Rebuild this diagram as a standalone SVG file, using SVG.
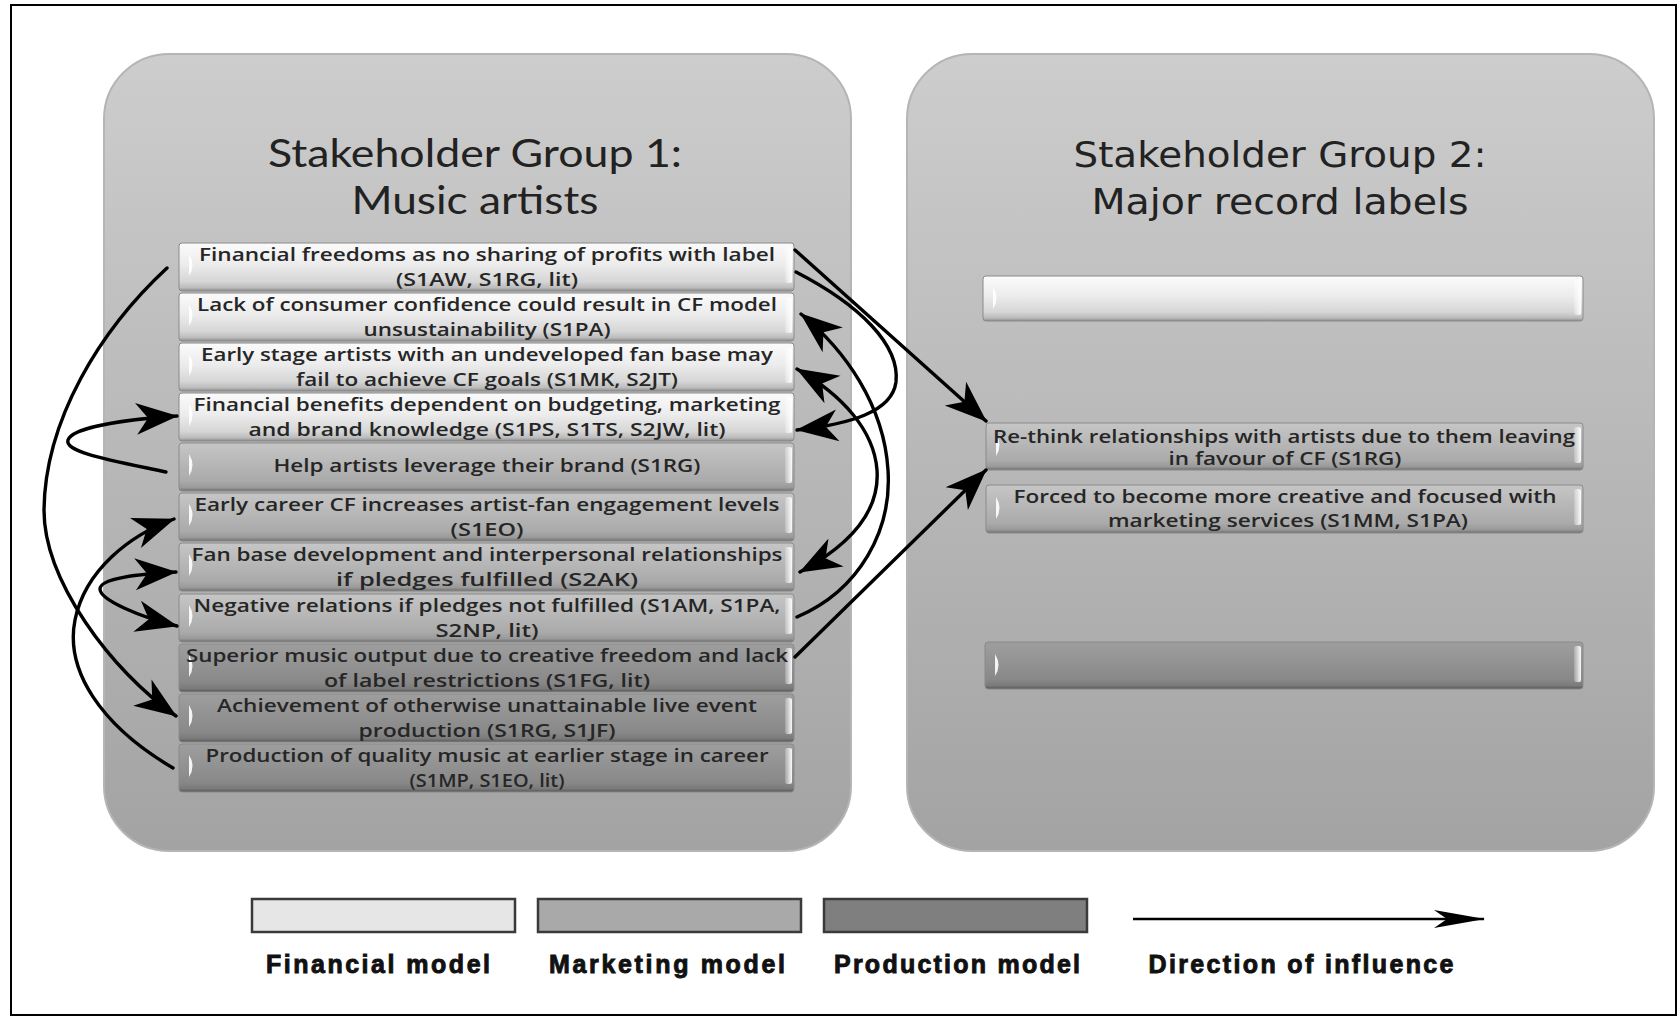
<svg xmlns="http://www.w3.org/2000/svg" xmlns:xlink="http://www.w3.org/1999/xlink" width="1679" height="1018" viewBox="0 0 1679 1018">
<style>
.panel{stroke:#b5b5b5;stroke-width:2}
.box{stroke:#8a8a8a;stroke-width:1}
.fin{fill:url(#gFin)}
.mkt{fill:url(#gMkt)}
.prod{fill:url(#gProd)}
.t{font-family:"Open Sans","Liberation Sans",sans-serif;font-size:18.5px;font-weight:600;fill:#262626;text-anchor:middle}
.title{font-family:Lato,"Liberation Sans",sans-serif;font-size:38px;fill:#222;text-anchor:middle}
.title2{font-family:"DejaVu Sans","Liberation Sans",sans-serif;font-size:36px;fill:#222;text-anchor:middle}
.leg{font-family:"Liberation Sans","Arial",sans-serif;font-size:25px;font-weight:bold;fill:#111;stroke:#111;stroke-width:0.9;text-anchor:middle}
.legbox{stroke:#3a3a3a;stroke-width:2.5}
.conn path{fill:none;stroke:#000;stroke-width:3.4;stroke-linecap:round}
</style>
<defs>
<linearGradient id="gPanel" x1="0" y1="0" x2="0" y2="1">
<stop offset="0" stop-color="#cdcdcd"/><stop offset="1" stop-color="#a3a3a3"/>
</linearGradient>
<linearGradient id="gFin" x1="0" y1="0" x2="0" y2="1">
<stop offset="0" stop-color="#fbfbfb"/><stop offset="0.45" stop-color="#ececec"/><stop offset="0.8" stop-color="#d6d6d6"/><stop offset="0.93" stop-color="#bcbcbc"/><stop offset="1" stop-color="#8c8c8c"/>
</linearGradient>
<linearGradient id="gMkt" x1="0" y1="0" x2="0" y2="1">
<stop offset="0" stop-color="#c6c6c6"/><stop offset="0.45" stop-color="#b6b6b6"/><stop offset="0.8" stop-color="#aaaaaa"/><stop offset="0.93" stop-color="#999"/><stop offset="1" stop-color="#6e6e6e"/>
</linearGradient>
<linearGradient id="gProd" x1="0" y1="0" x2="0" y2="1">
<stop offset="0" stop-color="#9e9e9e"/><stop offset="0.45" stop-color="#929292"/><stop offset="0.8" stop-color="#888"/><stop offset="0.93" stop-color="#7a7a7a"/><stop offset="1" stop-color="#565656"/>
</linearGradient>
<linearGradient id="gHi" x1="0" y1="0" x2="1" y2="0">
<stop offset="0" stop-color="#fff" stop-opacity="0.2"/><stop offset="1" stop-color="#fff" stop-opacity="0.95"/>
</linearGradient>
<path id="lhl" d="M0,0 Q7,11 0,22 Z" fill="#fff" fill-opacity="0.9"/>
<rect id="rhl" width="7" height="36" rx="2" fill="url(#gHi)"/>
<marker id="ah" markerUnits="userSpaceOnUse" markerWidth="44" markerHeight="34" viewBox="0 0 44 34" refX="41" refY="17" orient="auto-start-reverse">
<path d="M0,1 L42,17 L0,33 L12,17 Z" fill="#000"/>
</marker>
<marker id="ahL" markerUnits="userSpaceOnUse" markerWidth="52" markerHeight="22" viewBox="0 0 52 22" refX="50" refY="11" orient="auto">
<path d="M0,2 L51,11 L0,20 L13,11 Z" fill="#000"/>
</marker>
</defs>

<rect x="0" y="0" width="1679" height="1018" fill="#fff"/>
<rect id="frame" x="11" y="5" width="1665" height="1010" fill="none" stroke="#000" stroke-width="2"/>

<g id="group1">
<rect class="panel" x="104" y="54" width="747" height="797" rx="65" fill="url(#gPanel)"/>
<text class="title" x="475" y="167" textLength="414" lengthAdjust="spacingAndGlyphs">Stakeholder Group 1:</text>
<text class="title" x="475" y="214" textLength="247" lengthAdjust="spacingAndGlyphs">Music artists</text>
</g>

<g id="group2">
<rect class="panel" x="907" y="54" width="747" height="797" rx="65" fill="url(#gPanel)"/>
<text class="title2" x="1280" y="167" textLength="413" lengthAdjust="spacingAndGlyphs">Stakeholder Group 2:</text>
<text class="title2" x="1280" y="214" textLength="377" lengthAdjust="spacingAndGlyphs">Major record labels</text>
</g>

<g id="n1">
<rect class="box fin" x="179" y="243" width="615" height="48" rx="3"/>
<use xlink:href="#lhl" x="189" y="254"/><use xlink:href="#rhl" x="785" y="247"/>
<text class="t" x="487" y="261" textLength="576" lengthAdjust="spacingAndGlyphs">Financial freedoms as no sharing of profits with label</text>
<text class="t" x="487" y="286" textLength="182" lengthAdjust="spacingAndGlyphs">(S1AW, S1RG, lit)</text>
</g>
<g id="n2">
<rect class="box fin" x="179" y="293" width="615" height="48" rx="3"/>
<use xlink:href="#lhl" x="189" y="304"/><use xlink:href="#rhl" x="785" y="297"/>
<text class="t" x="487" y="311" textLength="580" lengthAdjust="spacingAndGlyphs">Lack of consumer confidence could result in CF model</text>
<text class="t" x="487" y="336" textLength="247" lengthAdjust="spacingAndGlyphs">unsustainability (S1PA)</text>
</g>
<g id="n3">
<rect class="box fin" x="179" y="343" width="615" height="48" rx="3"/>
<use xlink:href="#lhl" x="189" y="354"/><use xlink:href="#rhl" x="785" y="347"/>
<text class="t" x="487" y="361" textLength="572" lengthAdjust="spacingAndGlyphs">Early stage artists with an undeveloped fan base may</text>
<text class="t" x="487" y="386" textLength="382" lengthAdjust="spacingAndGlyphs">fail to achieve CF goals (S1MK, S2JT)</text>
</g>
<g id="n4">
<rect class="box fin" x="179" y="393" width="615" height="48" rx="3"/>
<use xlink:href="#lhl" x="189" y="404"/><use xlink:href="#rhl" x="785" y="397"/>
<text class="t" x="487" y="411" textLength="587" lengthAdjust="spacingAndGlyphs">Financial benefits dependent on budgeting, marketing</text>
<text class="t" x="487" y="436" textLength="477" lengthAdjust="spacingAndGlyphs">and brand knowledge (S1PS, S1TS, S2JW, lit)</text>
</g>
<g id="n5">
<rect class="box mkt" x="179" y="443" width="615" height="48" rx="3"/>
<use xlink:href="#lhl" x="189" y="454"/><use xlink:href="#rhl" x="785" y="447"/>
<text class="t" x="487" y="472" textLength="427" lengthAdjust="spacingAndGlyphs">Help artists leverage their brand (S1RG)</text>
</g>
<g id="n6">
<rect class="box mkt" x="179" y="493" width="615" height="48" rx="3"/>
<use xlink:href="#lhl" x="189" y="504"/><use xlink:href="#rhl" x="785" y="497"/>
<text class="t" x="487" y="511" textLength="585" lengthAdjust="spacingAndGlyphs">Early career CF increases artist-fan engagement levels</text>
<text class="t" x="487" y="536" textLength="73" lengthAdjust="spacingAndGlyphs">(S1EO)</text>
</g>
<g id="n7">
<rect class="box mkt" x="179" y="543" width="615" height="48" rx="3"/>
<use xlink:href="#lhl" x="189" y="554"/><use xlink:href="#rhl" x="785" y="547"/>
<text class="t" x="487" y="561" textLength="591" lengthAdjust="spacingAndGlyphs">Fan base development and interpersonal relationships</text>
<text class="t" x="487" y="586" textLength="302" lengthAdjust="spacingAndGlyphs">if pledges fulfilled (S2AK)</text>
</g>
<g id="n8">
<rect class="box mkt" x="179" y="594" width="615" height="48" rx="3"/>
<use xlink:href="#lhl" x="189" y="605"/><use xlink:href="#rhl" x="785" y="598"/>
<text class="t" x="487" y="612" textLength="587" lengthAdjust="spacingAndGlyphs">Negative relations if pledges not fulfilled (S1AM, S1PA,</text>
<text class="t" x="487" y="637" textLength="103" lengthAdjust="spacingAndGlyphs">S2NP, lit)</text>
</g>
<g id="n9">
<rect class="box prod" x="179" y="644" width="615" height="48" rx="3"/>
<use xlink:href="#lhl" x="189" y="655"/><use xlink:href="#rhl" x="785" y="648"/>
<text class="t" x="487" y="662" textLength="602" lengthAdjust="spacingAndGlyphs">Superior music output due to creative freedom and lack</text>
<text class="t" x="487" y="687" textLength="326" lengthAdjust="spacingAndGlyphs">of label restrictions (S1FG, lit)</text>
</g>
<g id="n10">
<rect class="box prod" x="179" y="694" width="615" height="48" rx="3"/>
<use xlink:href="#lhl" x="189" y="705"/><use xlink:href="#rhl" x="785" y="698"/>
<text class="t" x="487" y="712" textLength="540" lengthAdjust="spacingAndGlyphs">Achievement of otherwise unattainable live event</text>
<text class="t" x="487" y="737" textLength="257" lengthAdjust="spacingAndGlyphs">production (S1RG, S1JF)</text>
</g>
<g id="n11">
<rect class="box prod" x="179" y="744" width="615" height="48" rx="3"/>
<use xlink:href="#lhl" x="189" y="755"/><use xlink:href="#rhl" x="785" y="748"/>
<text class="t" x="487" y="762" textLength="563" lengthAdjust="spacingAndGlyphs">Production of quality music at earlier stage in career</text>
<text class="t" x="487" y="787" textLength="155" lengthAdjust="spacingAndGlyphs">(S1MP, S1EO, lit)</text>
</g>

<g id="r1">
<rect class="box fin" x="983" y="276" width="600" height="45" rx="3"/>
<use xlink:href="#lhl" x="993" y="287"/><use xlink:href="#rhl" x="1574" y="279"/>
</g>
<g id="r2">
<rect class="box mkt" x="986" y="423" width="597" height="47" rx="3"/>
<use xlink:href="#lhl" x="996" y="434"/><use xlink:href="#rhl" x="1574" y="427"/>
<text class="t" x="1284" y="443" textLength="582" lengthAdjust="spacingAndGlyphs">Re-think relationships with artists due to them leaving</text>
<text class="t" x="1285" y="465" textLength="233" lengthAdjust="spacingAndGlyphs">in favour of CF (S1RG)</text>
</g>
<g id="r3">
<rect class="box mkt" x="986" y="485" width="597" height="48" rx="3"/>
<use xlink:href="#lhl" x="996" y="497"/><use xlink:href="#rhl" x="1574" y="489"/>
<text class="t" x="1285" y="503" textLength="543" lengthAdjust="spacingAndGlyphs">Forced to become more creative and focused with</text>
<text class="t" x="1288" y="527" textLength="360" lengthAdjust="spacingAndGlyphs">marketing services (S1MM, S1PA)</text>
</g>
<g id="r4">
<rect class="box prod" x="985" y="642" width="598" height="47" rx="3"/>
<use xlink:href="#lhl" x="995" y="654"/><use xlink:href="#rhl" x="1574" y="646"/>
</g>

<g id="connectors" class="conn">
<path d="M795,250 L986,421" marker-end="url(#ah)"/>
<path d="M796,272 C860,305 900,345 896,382 C892,412 850,424 797,430" marker-end="url(#ah)"/>
<path d="M797,617 C860,590 892,530 888,470 C884,405 845,350 801,314" marker-end="url(#ah)"/>
<path d="M800,572 C850,545 880,512 877,470 C874,430 842,395 797,369" marker-start="url(#ah)" marker-end="url(#ah)"/>
<path d="M795,657 L986,470" marker-end="url(#ah)"/>
<path d="M167,268 C100,330 45,420 44,510 C44,580 110,670 176,716" marker-end="url(#ah)"/>
<path d="M166,472 C110,460 64,452 68,440 C72,428 120,420 177,416" marker-end="url(#ah)"/>
<path d="M173,768 C100,725 65,670 75,620 C85,570 130,535 174,519" marker-end="url(#ah)"/>
<path d="M176,572 C140,574 100,578 100,589 C100,600 140,617 177,626" marker-start="url(#ah)" marker-end="url(#ah)"/>
</g>

<g id="legend">
<g id="leg-fin">
<rect class="legbox" x="252" y="899" width="263" height="33" fill="#e6e6e6"/>
<text class="leg" x="378" y="973" textLength="224" lengthAdjust="spacing">Financial model</text>
</g>
<g id="leg-mkt">
<rect class="legbox" x="538" y="899" width="263" height="33" fill="#a9a9a9"/>
<text class="leg" x="667" y="973" textLength="236" lengthAdjust="spacing">Marketing model</text>
</g>
<g id="leg-prod">
<rect class="legbox" x="824" y="899" width="263" height="33" fill="#7f7f7f"/>
<text class="leg" x="957" y="973" textLength="246" lengthAdjust="spacing">Production model</text>
</g>
<g id="leg-dir">
<path d="M1133,919 L1484,919" fill="none" stroke="#000" stroke-width="2.5" marker-end="url(#ahL)"/>
<text class="leg" x="1301" y="973" textLength="305" lengthAdjust="spacing">Direction of influence</text>
</g>
</g>
</svg>
